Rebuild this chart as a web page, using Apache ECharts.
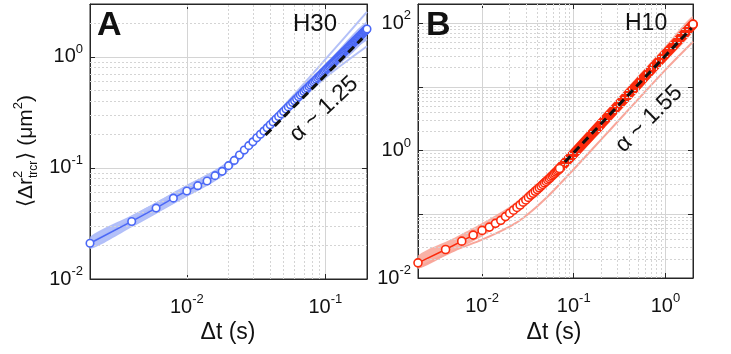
<!DOCTYPE html>
<html>
<head>
<meta charset="utf-8">
<script src="https://cdn.jsdelivr.net/npm/echarts@6/dist/echarts.min.js"></script>
<style>
html, body { margin: 0; padding: 0; background: #fff; }
#chart { width: 731px; height: 354px; }
</style>
</head>
<body>
<div id="chart"></div>
<script>
// frame interval of the tracking (s): lag times are multiples of it
var frameDt = 0.002;

// panel A (H30): MSD at every lag 0.002 ... 0.2 s
var msdA = [
    0.0210, 0.0330, 0.0435, 0.0535, 0.0621, 0.0693, 0.0764, 0.0853, 0.0933, 0.105,
    0.117, 0.131, 0.145, 0.159, 0.172, 0.187, 0.201, 0.215, 0.230, 0.245,
    0.260, 0.276, 0.291, 0.307, 0.323, 0.339, 0.355, 0.371, 0.388, 0.404,
    0.421, 0.438, 0.454, 0.472, 0.489, 0.506, 0.523, 0.541, 0.559, 0.576,
    0.594, 0.612, 0.630, 0.648, 0.666, 0.685, 0.703, 0.722, 0.740, 0.759,
    0.778, 0.797, 0.816, 0.835, 0.854, 0.873, 0.893, 0.912, 0.932, 0.951,
    0.971, 0.990, 1.010, 1.030, 1.049, 1.070, 1.090, 1.110, 1.130, 1.150,
    1.171, 1.191, 1.212, 1.232, 1.253, 1.273, 1.294, 1.315, 1.336, 1.356,
    1.377, 1.398, 1.420, 1.441, 1.462, 1.483, 1.505, 1.526, 1.547, 1.569,
    1.590, 1.612, 1.634, 1.656, 1.678, 1.699, 1.721, 1.743, 1.765, 1.787
];
var bandA_t  = [0.002, 0.004, 0.006, 0.01, 0.016, 0.02, 0.03, 0.05, 0.1, 0.2];
var bandA_hi = [0.0240, 0.0375, 0.0492, 0.0705, 0.096, 0.116, 0.188, 0.358, 0.86, 2.1];
var bandA_lo = [0.0186, 0.0292, 0.0386, 0.0550, 0.0760, 0.094, 0.155, 0.290, 0.66, 1.5];
var faintA_t  = [0.002, 0.01, 0.02, 0.03, 0.05, 0.1, 0.2];
var faintA_1  = [0.0225, 0.068, 0.112, 0.183, 0.36, 0.95, 2.55];
var faintA_2  = [0.0195, 0.057, 0.097, 0.16, 0.295, 0.65, 1.25];
var faintA_3  = [0.021, 0.064, 0.108, 0.178, 0.335, 0.78, 1.45];
var fitA_t = [0.037, 0.185];
var fitA_v = [0.198, 1.47];

// panel B (H10): MSD at lags 0.002 ... 0.07 s (single circles)
var msdB = [
    0.0173, 0.0280, 0.0379, 0.0471, 0.0559, 0.0630, 0.0721, 0.0804, 0.0920, 0.104,
    0.116, 0.128, 0.140, 0.155, 0.168, 0.184, 0.200, 0.214, 0.230, 0.245,
    0.261, 0.277, 0.294, 0.311, 0.328, 0.346, 0.364, 0.383, 0.402, 0.421,
    0.441, 0.461, 0.481, 0.502, 0.523
];
// beyond 0.07 s the circles merge into a solid band
var denseB_t = [0.068, 0.08, 0.1, 0.15, 0.2, 0.3, 0.5, 0.7, 1.0, 1.5, 2.0];
var denseB_v = [0.502, 0.637, 0.895, 1.69, 2.64, 4.97, 11.0, 18.6, 32.5, 61, 96];
var bandB_t  = [0.002, 0.005, 0.01, 0.02, 0.03, 0.05, 0.07, 0.1, 0.2, 0.5, 1, 2];
var bandB_hi = [0.0225, 0.043, 0.073, 0.133, 0.21, 0.40, 0.64, 1.15, 3.5, 14.8, 44, 130];
var bandB_lo = [0.0140, 0.027, 0.045, 0.084, 0.135, 0.265, 0.42, 0.70, 2.0, 8.4, 25, 74];
var lowB_t = [0.002, 0.005, 0.01, 0.02, 0.03, 0.05, 0.1, 0.2, 0.5, 1, 2];
var lowB_v = [0.0144, 0.027, 0.040, 0.064, 0.094, 0.18, 0.51, 1.5, 6.3, 18.5, 51];
var fitB_t = [0.08, 1.93];
var fitB_v = [0.66, 84];

// minor grid positions
var minorA_x = [0.003, 0.004, 0.005, 0.006, 0.007, 0.008, 0.009, 0.02, 0.03, 0.04, 0.05, 0.06, 0.07, 0.08, 0.09];
var minorA_y = [0.02, 0.03, 0.04, 0.05, 0.06, 0.07, 0.08, 0.09, 0.2, 0.3, 0.4, 0.5, 0.6, 0.7, 0.8, 0.9, 2];
var minorB_x = [0.003, 0.004, 0.005, 0.006, 0.007, 0.008, 0.009, 0.02, 0.03, 0.04, 0.05, 0.06, 0.07, 0.08, 0.09,
    0.2, 0.3, 0.4, 0.5, 0.6, 0.7, 0.8, 0.9];
var minorB_y = [0.02, 0.03, 0.04, 0.05, 0.06, 0.07, 0.08, 0.09, 0.2, 0.3, 0.4, 0.5, 0.6, 0.7, 0.8, 0.9,
    2, 3, 4, 5, 6, 7, 8, 9, 20, 30, 40, 50, 60, 70, 80, 90];

var FONT = '"Liberation Sans", Arial, sans-serif';
var BLUE = '#4b68f6';
var RED = '#fb2a0c';

function lagPairs(vals) {
    return vals.map(function (v, i) { return [(i + 1) * frameDt, v]; });
}
function zip(ts, vs) {
    return ts.map(function (t, i) { return [t, vs[i]]; });
}

function powLabel(everyOther) {
    return function (v) {
        var e = Math.log10(v), r = Math.round(e);
        if (Math.abs(e - r) > 1e-6) return '';
        if (everyOther && r % 2 !== 0) return '';
        return '10{sup|' + r + '}';
    };
}

var labelStyle = {
    fontSize: 20, lineHeight: 28, color: '#111', fontFamily: FONT,
    rich: { sup: { fontSize: 13, lineHeight: 14, verticalAlign: 'top', fontFamily: FONT, color: '#111' } }
};

function mainAxis(grid, pos, min, max, margin, everyOther) {
    return {
        type: 'log', gridIndex: grid, position: pos, min: min, max: max,
        axisLine: { show: true, lineStyle: { color: '#262626', width: 1 } },
        axisTick: { show: true, inside: true, length: 5, lineStyle: { color: '#262626' } },
        axisLabel: Object.assign({ margin: margin, formatter: powLabel(everyOther), showMinLabel: true, showMaxLabel: true }, labelStyle),
        splitLine: { show: true, lineStyle: { color: '#d4d4d4', width: 1 } }
    };
}
function boxAxis(grid, pos, min, max) {
    return {
        type: 'log', gridIndex: grid, position: pos, min: min, max: max,
        axisLine: { show: true, lineStyle: { color: '#262626', width: 1 } },
        axisTick: { show: true, inside: true, length: 5, lineStyle: { color: '#262626' } },
        axisLabel: { show: false },
        splitLine: { show: false }
    };
}

function minorGrid(xi, yi, xs, ys, x0, y0) {
    var lines = xs.map(function (v) { return { xAxis: v }; })
        .concat(ys.map(function (v) { return { yAxis: v }; }));
    return {
        type: 'line', xAxisIndex: xi, yAxisIndex: yi, z: 1, silent: true,
        data: [[x0, y0]], showSymbol: false, lineStyle: { width: 0 },
        markLine: {
            silent: true, symbol: ['none', 'none'], label: { show: false },
            animation: false,
            lineStyle: { color: '#d4d4d4', width: 1, type: [2, 2] },
            data: lines
        }
    };
}

function band(xi, yi, ts, lo, hi, color, op) {
    return {
        type: 'custom', xAxisIndex: xi, yAxisIndex: yi, z: 2, silent: true, clip: true,
        data: ts.map(function (t, i) { return [t, lo[i], hi[i]]; }),
        renderItem: function (params, api) {
            if (params.dataIndex !== 0) return null;
            var pts = [];
            for (var i = 0; i < ts.length; i++) pts.push(api.coord([ts[i], hi[i]]));
            for (var j = ts.length - 1; j >= 0; j--) pts.push(api.coord([ts[j], lo[j]]));
            return { type: 'polygon', shape: { points: pts, smooth: 0.3 }, style: { fill: color, opacity: op } };
        }
    };
}

function faint(xi, yi, ts, vs, color, w) {
    return {
        type: 'line', xAxisIndex: xi, yAxisIndex: yi, z: 3, silent: true,
        data: zip(ts, vs), showSymbol: false, smooth: 0.3,
        lineStyle: { color: color, width: w }
    };
}

function circles(xi, yi, data, color, size) {
    return {
        type: 'line', xAxisIndex: xi, yAxisIndex: yi, z: 5, silent: true,
        data: data, symbol: 'circle', symbolSize: size, showAllSymbol: true,
        lineStyle: { color: color, width: 1.5 },
        itemStyle: { color: '#fff', borderColor: color, borderWidth: 1.6 }
    };
}

function fit(xi, yi, ts, vs) {
    return {
        type: 'line', xAxisIndex: xi, yAxisIndex: yi, z: 7, silent: true,
        data: zip(ts, vs), showSymbol: false,
        lineStyle: { color: '#111', width: 3, type: [8, 5] }
    };
}

// y-axis title with stacked super/subscript
var ctx = document.createElement('canvas').getContext('2d');
function tw(txt, size) { ctx.font = size + 'px ' + FONT; return ctx.measureText(txt).width; }
function yTitle(cx, cy) {
    var parts = [], x = 0;
    function add(txt, size, dy, adv) {
        parts.push({ type: 'text', x: x, y: dy, style: { text: txt, fontSize: size, fontFamily: FONT, fill: '#111', align: 'left', verticalAlign: 'middle' } });
        if (adv) x += tw(txt, size);
    }
    add('\u27E8\u0394r', 21, 0, true);
    var x0 = x;
    add('2', 13, -8, false);
    add('trcr', 12, 8, false);
    x = x0 + Math.max(tw('2', 13), tw('trcr', 12)) + 1;
    add('\u27E9 (\u03BCm', 21, 0, true);
    add('2', 13, -8, true);
    add(')', 21, 0, true);
    parts.forEach(function (p) { p.x -= x / 2; });
    return { type: 'group', x: cx, y: cy, rotation: Math.PI / 2, children: parts };
}

function txt(x, y, s, size, weight) {
    return {
        type: 'text', x: x, y: y, z: 100,
        style: { text: s, fontSize: size, fontWeight: weight || 'normal', fontFamily: FONT, fill: '#111', align: 'left', verticalAlign: 'top' }
    };
}
function ctrTxt(x, y, s, size, deg) {
    return {
        type: 'text', x: x, y: y, z: 100, rotation: (deg || 0) * Math.PI / 180,
        style: { text: s, fontSize: size, fontFamily: FONT, fill: '#111', align: 'center', verticalAlign: 'middle' }
    };
}

var chart = echarts.init(document.getElementById('chart'), null, { renderer: 'canvas' });
chart.setOption({
    animation: false,
    backgroundColor: '#fff',
    grid: [
        { left: 90, top: 4, width: 277, height: 275, show: true, borderColor: '#262626', borderWidth: 1, backgroundColor: '#fff' },
        { left: 418, top: 4, width: 275, height: 274, show: true, borderColor: '#262626', borderWidth: 1, backgroundColor: '#fff' }
    ],
    xAxis: [
        mainAxis(0, 'bottom', 0.002, 0.2, 14, false),
        mainAxis(1, 'bottom', 0.002, 2, 14, false),
        boxAxis(0, 'top', 0.002, 0.2),
        boxAxis(1, 'top', 0.002, 2)
    ],
    yAxis: [
        mainAxis(0, 'left', 0.01, 3, 7, false),
        mainAxis(1, 'left', 0.01, 200, 7, true),
        boxAxis(0, 'right', 0.01, 3),
        boxAxis(1, 'right', 0.01, 200)
    ],
    series: [
        minorGrid(0, 0, minorA_x, minorA_y, 0.002, 0.01),
        band(0, 0, bandA_t, bandA_lo, bandA_hi, '#a3b3f8', 0.85),
        faint(0, 0, faintA_t, faintA_1, '#b4c1f8', 2),
        faint(0, 0, faintA_t, faintA_2, '#b4c1f8', 2),
        faint(0, 0, faintA_t, faintA_3, '#a9b8f8', 2),
        circles(0, 0, lagPairs(msdA), BLUE, 7.5),
        fit(0, 0, fitA_t, fitA_v),

        minorGrid(1, 1, minorB_x, minorB_y, 0.002, 0.01),
        band(1, 1, bandB_t, bandB_lo, bandB_hi, '#f8a497', 0.85),
        faint(1, 1, lowB_t, lowB_v, '#f8a69a', 2),
        {
            type: 'line', xAxisIndex: 1, yAxisIndex: 1, z: 4, silent: true,
            data: zip(denseB_t, denseB_v), showSymbol: false, smooth: 0.3,
            lineStyle: { color: RED, width: 10, cap: 'round' }
        },
        circles(1, 1, lagPairs(msdB), RED, 8),
        circles(1, 1, [[denseB_t[denseB_t.length - 1], denseB_v[denseB_v.length - 1]]], RED, 8),
        fit(1, 1, fitB_t, fitB_v)
    ],
    graphic: [
        txt(97, 9, 'A', 34, 'bold'),
        txt(293, 12, 'H30', 24),
        ctrTxt(324, 109, '\u03B1 ~ 1.25', 23, 43),
        txt(426, 9, 'B', 34, 'bold'),
        txt(625, 12, 'H10', 23),
        ctrTxt(649, 119, '\u03B1 ~ 1.55', 23, 45),
        ctrTxt(228, 333, '\u0394t (s)', 23),
        ctrTxt(554, 333, '\u0394t (s)', 23),
        yTitle(26, 151)
    ]
});
</script>
</body>
</html>
